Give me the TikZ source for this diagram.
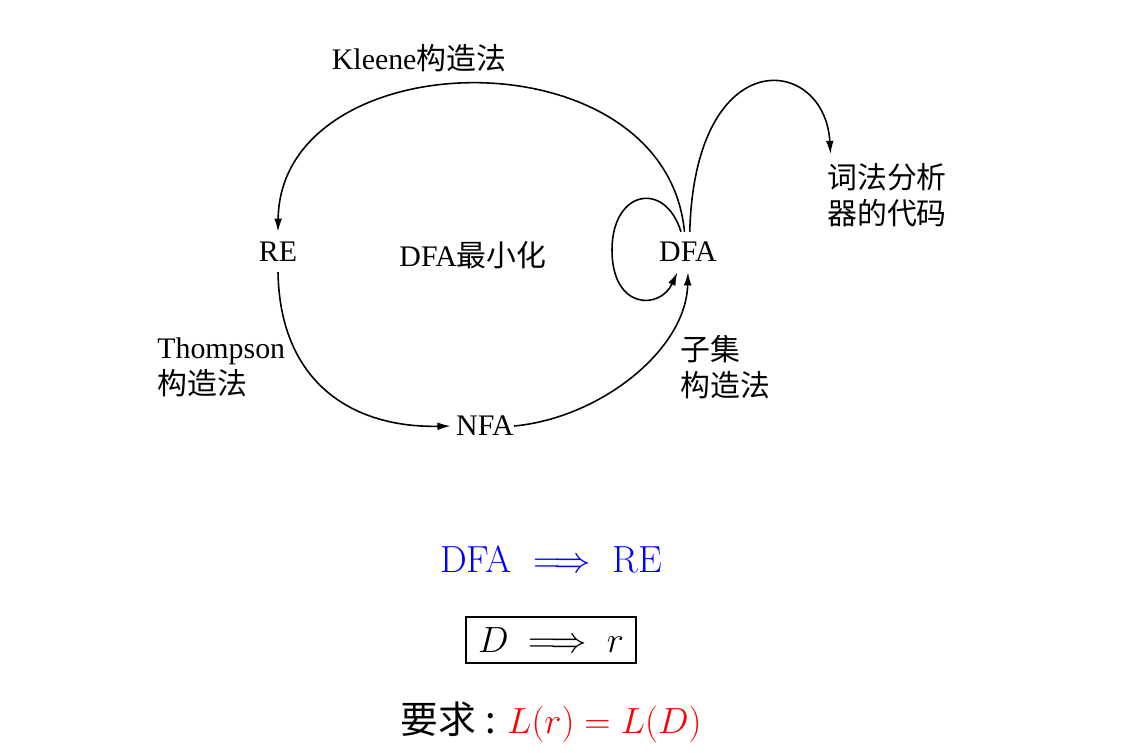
\documentclass[tikz,border=0pt]{standalone}
\usepackage{amsmath, amssymb}
\usepackage{fontspec}
\usepackage{tikz}
\usetikzlibrary{arrows.meta}
\newfontfamily\timesfont{Liberation Serif}
\newfontfamily\cjk{Noto Sans CJK SC}
\newcommand{\zh}[1]{{\cjk #1}}

\begin{document}
\begin{tikzpicture}[>={Latex[length=7.5pt,width=4.4pt]}, x=0.02cm, y=-0.02cm,
  lbl/.style={font=\timesfont\fontsize{17}{20}\selectfont, inner xsep=3pt, inner ysep=5.7pt},
  note/.style={font=\timesfont\fontsize{17}{20.5}\selectfont, align=left, inner sep=0pt},
  edge/.style={->, line width=0.9pt},
  big/.style={font=\fontsize{21.5}{26}\selectfont}]
  \useasboundingbox (0,0) rectangle (1126,752);
  % automata
  \node[lbl] (re) at (278,252) {RE};
  \node[lbl] (dfa) at (688,252) {DFA};
  \node[lbl] (nfa) at (485,426) {NFA};
  \node[lbl] (mini) at (473,255) {DFA\zh{最小化}};
  % labels of the constructions
  \node[note] (kleene) at (419,58) {Kleene\zh{构造法}};
  \node[note, anchor=west] (thompson) at (157,367) {Thompson\\\zh{构造法}};
  \node[note, anchor=west] (subset) at (680,367) {\zh{子集}\\\zh{构造法}};
  \node[note, anchor=west] (code) at (827,195) {\zh{词法分析}\\\zh{器的代码}};
  % edges
  \draw[edge] ([xshift=-2pt]dfa.north) .. controls (665,30) and (280,40) .. (re.north);
  \draw[edge] (re.south) .. controls (280,385) and (355,428) .. (nfa.west);
  \draw[edge] ([xshift=-3pt]nfa.east) .. controls (600,418) and (686,350) .. (dfa.south);
  \draw[edge] ([xshift=-4pt]dfa.north) .. controls (665,180) and (612,190) .. (612,250)
    .. controls (612,310) and (660,310) .. ([xshift=-6pt]dfa.south);
  \draw[edge] ([xshift=1pt]dfa.north) .. controls (695,40) and (825,55) .. ([shift={(2pt,5pt)}]code.north west);
  % DFA to RE
  \node[big, text=blue] (goal) at (551,559) {DFA $\implies$ RE};
  \node[draw, line width=0.8pt, big, minimum width=3.4cm, minimum height=0.92cm] (box) at (551,640) {$D \implies r$};
  \node[big] (req) at (551,722) {\zh{要求}\hspace{0.25em}\zh{:}\hspace{0.3em}\textcolor{red}{$L(r) = L(D)$}};
\end{tikzpicture}
\end{document}
